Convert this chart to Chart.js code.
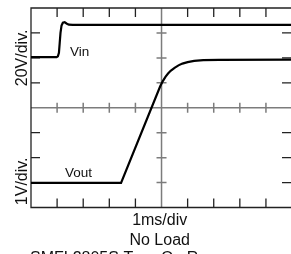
<!DOCTYPE html>
<html><head><meta charset="utf-8">
<script src="https://cdn.jsdelivr.net/npm/chart.js@4/dist/chart.umd.min.js"></script>
<style>html,body{margin:0;padding:0;background:#fff;overflow:hidden}</style>
</head><body>
<canvas id="c" width="291" height="254"></canvas>
<script>
// time axis in divisions (1 ms/div), level in screen divisions (0 = bottom)
const vinTime  = [0, 0.98, 1.03, 1.07, 1.10, 1.13, 1.17, 1.22, 1.29, 1.36, 1.45, 1.60, 10];
const vinLevel = [6.03, 6.03, 6.06, 6.2, 6.6, 7.0, 7.3, 7.41, 7.43, 7.38, 7.33, 7.32, 7.32];
const voutTime  = [0, 3.45, 4.95, 5.05, 5.15, 5.25, 5.35, 5.5, 5.65, 5.8, 6.0, 6.25, 6.6, 7.2, 10];
const voutLevel = [0.99, 0.99, 4.86, 5.07, 5.24, 5.37, 5.48, 5.6, 5.7, 5.77, 5.83, 5.88, 5.91, 5.92, 5.93];
const xTickDivs = [1, 2, 3, 4, 6, 7, 8, 9];
const yTickDivs = [1, 2, 3, 5, 6, 7];
const traceLabels = ["Vin", "Vout"];
const axisTitles = ["20V/div.", "1V/div.", "1ms/div", "No Load", "SMFL2805S Turn-On Response"];

const toPts = (xs, ys) => xs.map((x, i) => ({x, y: ys[i]}));
const FONT = '"Liberation Sans", Arial, Helvetica, sans-serif';

const scopePlugin = {
  id: 'scope',
  beforeDatasetsDraw(chart) {
    const {ctx, chartArea: a, scales: {x, y}} = chart;
    ctx.save();
    // center lines (gray)
    ctx.strokeStyle = '#7c7c7c';
    ctx.lineWidth = 1.5;
    const cx = x.getPixelForValue(5), cy = y.getPixelForValue(4);
    ctx.beginPath();
    ctx.moveTo(a.left, cy); ctx.lineTo(a.right, cy);
    ctx.moveTo(cx, a.top); ctx.lineTo(cx, a.bottom);
    ctx.stroke();
    // ticks on center lines
    ctx.beginPath();
    xTickDivs.forEach(d => { const px = x.getPixelForValue(d); ctx.moveTo(px, cy - 5); ctx.lineTo(px, cy + 5); });
    yTickDivs.forEach(d => { const py = y.getPixelForValue(d); ctx.moveTo(cx - 5, py); ctx.lineTo(cx + 5, py); });
    ctx.stroke();
    // frame
    ctx.strokeStyle = '#222';
    ctx.lineWidth = 1.3;
    ctx.beginPath();
    ctx.moveTo(a.right + 2, a.top); ctx.lineTo(a.left, a.top); ctx.lineTo(a.left, a.bottom); ctx.lineTo(a.right + 2, a.bottom);
    ctx.stroke();
    ctx.beginPath();
    xTickDivs.forEach(d => { const px = x.getPixelForValue(d);
      ctx.moveTo(px, a.top); ctx.lineTo(px, a.top + 9);
      ctx.moveTo(px, a.bottom); ctx.lineTo(px, a.bottom - 9); });
    yTickDivs.forEach(d => { const py = y.getPixelForValue(d);
      ctx.moveTo(a.left, py); ctx.lineTo(a.left + 9, py);
      ctx.moveTo(a.right, py); ctx.lineTo(a.right - 9, py); });
    ctx.stroke();
    ctx.restore();
  },
  afterDraw(chart) {
    const {ctx, chartArea: a, scales: {x, y}} = chart;
    ctx.save();
    ctx.fillStyle = '#111';
    ctx.font = '13.5px ' + FONT;
    ctx.textBaseline = 'middle';
    ctx.textAlign = 'left';
    ctx.fillText(traceLabels[0], x.getPixelForValue(1.49), y.getPixelForValue(6.23));
    ctx.fillText(traceLabels[1], x.getPixelForValue(1.30), y.getPixelForValue(1.38));
    ctx.font = '16px ' + FONT;
    ctx.textAlign = 'center';
    ctx.textBaseline = 'alphabetic';
    // rotated y titles
    [[axisTitles[0], y.getPixelForValue(6)], [axisTitles[1], y.getPixelForValue(1.05)]].forEach(([t, py]) => {
      ctx.save();
      ctx.translate(a.left - 4, py);
      ctx.rotate(-Math.PI / 2);
      ctx.fillText(t, 0, 0);
      ctx.restore();
    });
    const mid = x.getPixelForValue(4.93);
    ctx.fillText(axisTitles[2], mid, a.bottom + 17.5);
    ctx.fillText(axisTitles[3], mid, a.bottom + 37);
    ctx.textAlign = 'left';
    ctx.fillText(axisTitles[4], a.left - 1, a.bottom + 55);
    ctx.restore();
  }
};

new Chart(document.getElementById('c'), {
  type: 'scatter',
  data: {
    datasets: [
      {label: traceLabels[0], data: toPts(vinTime, vinLevel), showLine: true, borderColor: '#000', borderWidth: 2.2, pointRadius: 0, tension: 0, fill: false},
      {label: traceLabels[1], data: toPts(voutTime, voutLevel), showLine: true, borderColor: '#000', borderWidth: 2.2, pointRadius: 0, tension: 0, fill: false}
    ]
  },
  options: {
    responsive: false,
    animation: false,
    devicePixelRatio: 1,
    layout: {padding: {left: 31, top: 8, right: 0, bottom: 46.5}},
    plugins: {legend: {display: false}, tooltip: {enabled: false}},
    scales: {
      x: {type: 'linear', min: 0, max: 9.96, display: false},
      y: {type: 'linear', min: 0, max: 8, display: false}
    }
  },
  plugins: [scopePlugin]
});
</script>
</body></html>
